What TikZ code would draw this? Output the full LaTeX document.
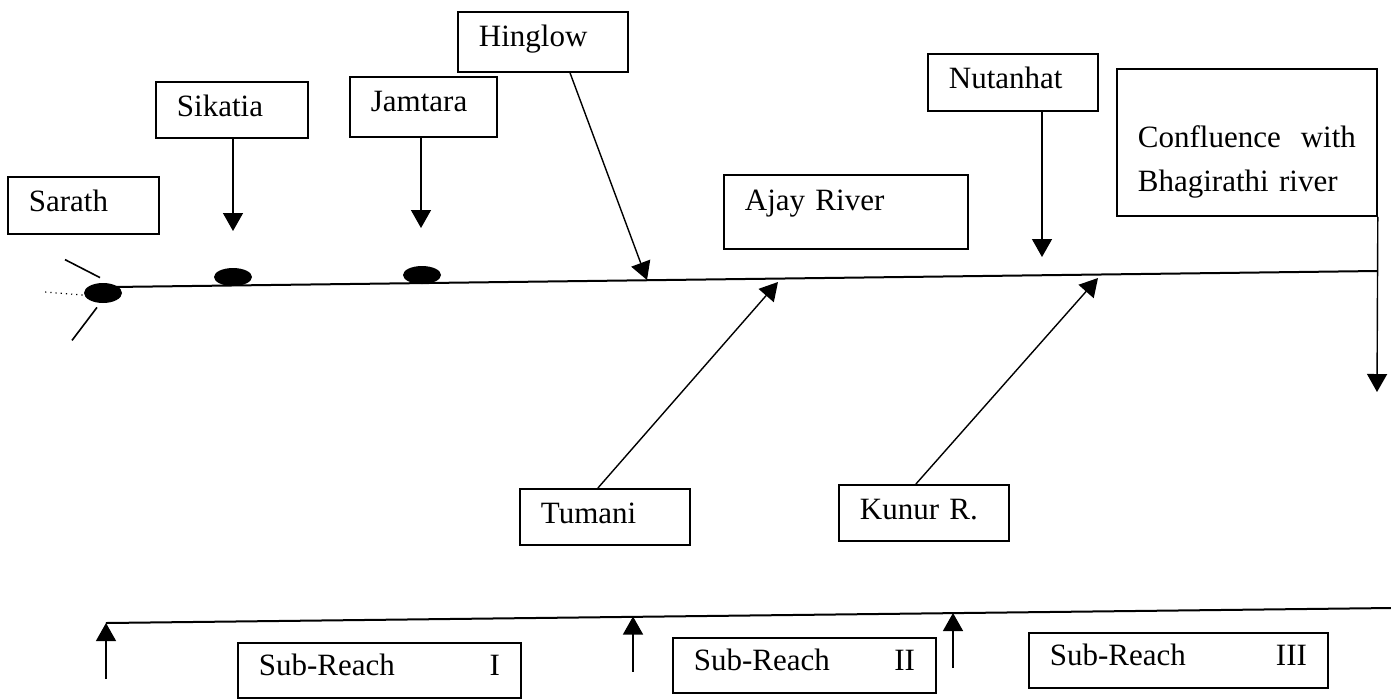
\documentclass[tikz,border=0pt]{standalone}
\usepackage{fontspec}
\setmainfont{Liberation Serif}
\usetikzlibrary{arrows.meta, calc, shapes.geometric}

\newcommand\spreadgap{\hskip 0pt plus 1fill\relax}

\tikzset{
  place/.style n args={3}{draw, line width=0.9pt, anchor=north west, align=left,
    inner xsep=10.5pt, inner ysep=0pt, font=\fontsize{15.5pt}{22pt}\selectfont,
    text width=#1, text height=#2, text depth=#3},
  feed/.style={-{Triangle[length=9pt,width=10pt]}, line width=0.7pt},
  town/.style={ellipse, fill, draw=none, inner sep=0pt, minimum width=19pt, minimum height=9pt},
}

\begin{document}
\begin{tikzpicture}[x=0.5pt, y=-0.5pt]
\useasboundingbox (0,0) rectangle (1391,698);

% boxes along the river
\node[place={54.5pt}{17.5pt}{11pt}] (sarath) at (7,176) {Sarath};
\node[place={55pt}{17.5pt}{10.5pt}] (sikatia) at (155,81) {Sikatia};
\node[place={52.5pt}{17.5pt}{12.5pt}] (jamtara) at (349,76) {Jamtara};
\node[place={64pt}{17.5pt}{12.5pt}] (hinglow) at (457,11) {Hinglow};
\node[place={101pt}{18pt}{19pt}] (ajay) at (723,174) {Ajay River};
\node[place={64pt}{17.5pt}{11pt}] (nutanhat) at (927,53) {Nutanhat};
\node[place={109pt}{39.5pt}{34pt}] (conf) at (1116,68) {Confluence\spreadgap with\\Bhagirathi river};
\node[place={64pt}{17.5pt}{10.5pt}] (tumani) at (519,488) {Tumani};
\node[place={64pt}{17.5pt}{10.5pt}] (kunur) at (838,484) {Kunur R.};

% main river
\coordinate (src) at (112,287);
\coordinate (mouth) at (1377,271);
\draw[line width=1pt] (src) -- (mouth);
\node[town, minimum height=10pt] (sarathdot) at (103,293) {};
\node[town] (sikdot) at (233,277) {};
\node[town] (jamdot) at (422,275) {};
\draw[line width=0.8pt] (sarathdot.north) ++(-3,-5) -- ++(-35,-18);
\draw[line width=0.8pt] (sarathdot.south) ++(-6,4) -- ++(-25,33);
\draw[dotted, line width=0.6pt] (sarathdot.west) ++(-1,2) -- ++(-38,-3);

% inflows
\coordinate (sik-in) at (233,231);
\coordinate (jam-in) at (421,228);
\coordinate (hin-in) at (647,280);
\coordinate (nut-in) at (1042,257);
\coordinate (tum-in) at (778,282);
\coordinate (kun-in) at (1098,278);
\coordinate (outlet) at (1377,392);
\draw[feed] (sikatia.south -| sik-in) -- (sik-in);
\draw[feed] (jamtara.south -| jam-in) -- (jam-in);
\draw[feed] ([xshift=56.5pt]hinglow.south west) -- (hin-in);
\draw[feed] (nutanhat.south -| nut-in) -- (nut-in);
\draw[feed] ([xshift=-3.5pt]tumani.north) -- (tum-in);
\draw[feed] ([xshift=-4pt]kunur.north) -- (kun-in);
\draw[feed] (conf.south east) -- (outlet);

% sub-reaches
\coordinate (r0) at (106,623);
\coordinate (r1) at (633,616.5);
\coordinate (r2) at (953,613);
\coordinate (rend) at (1391,608);
\draw[line width=1pt] (r0) -- (rend);
\draw[feed] ($(r0)+(0,56)$) -- (r0);
\draw[feed] ($(r1)+(0,55)$) -- (r1);
\draw[feed] ($(r2)+(0,55)$) -- (r2);
\node[place={120.5pt}{16.5pt}{11pt}] (sub1) at (237,642) {Sub-Reach\spreadgap I};
\node[place={110.5pt}{16.5pt}{11pt}] (sub2) at (672,637) {Sub-Reach\spreadgap II};
\node[place={128.5pt}{16.5pt}{11pt}] (sub3) at (1028,632) {Sub-Reach\spreadgap III};
\end{tikzpicture}
\end{document}
